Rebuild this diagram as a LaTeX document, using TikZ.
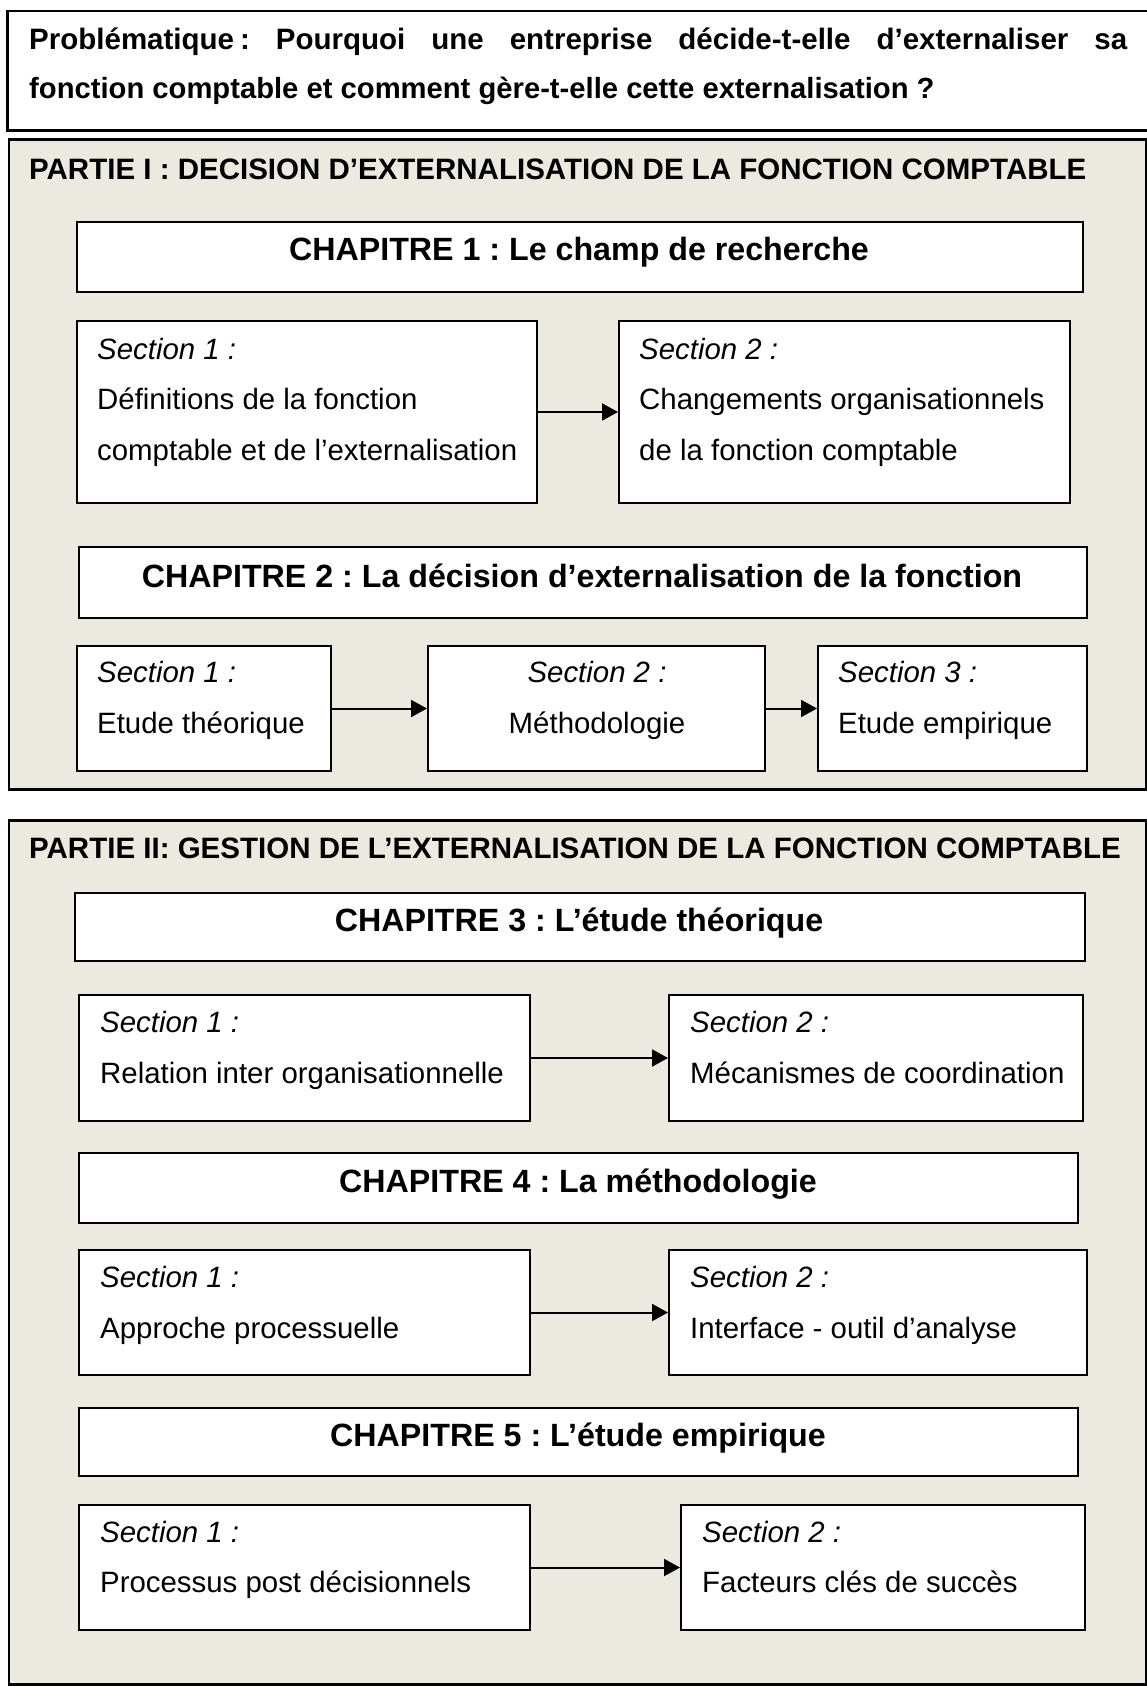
\documentclass[tikz,border=0pt]{standalone}
\usepackage{fontspec}
\setmainfont{Liberation Sans}
\usetikzlibrary{arrows.meta}
\definecolor{partfill}{RGB}{236,233,224}
\frenchspacing
\begin{document}
\begin{tikzpicture}[x=1pt,y=-1pt,
  frame/.style={draw=black,line width=2.5pt,fill=partfill,anchor=north west,inner sep=0pt},
  topframe/.style={draw=black,line width=2.5pt,fill=white,anchor=north west,inner sep=0pt},
  box/.style={draw=black,line width=2pt,fill=white,anchor=north west,inner sep=0pt},
  txt/.style={anchor=base west,inner sep=0pt,font=\fontsize{29.4}{35}\selectfont},
  itxt/.style={txt,font=\fontsize{29.4}{35}\selectfont\itshape},
  ctxt/.style={txt,anchor=base},
  citxt/.style={itxt,anchor=base},
  head/.style={anchor=base west,inner sep=0pt,font=\fontsize{29.5}{35}\selectfont\bfseries},
  chap/.style={anchor=base,inner sep=0pt,font=\fontsize{32.2}{38}\selectfont\bfseries},
  arr/.style={line width=2pt,-{Triangle[length=16pt,width=17pt]}}
]
\useasboundingbox (0,0) rectangle (1146,1686);

% problem statement
\node[topframe,minimum width=1150pt,minimum height=119pt] (prob) at (6,10) {};
\node[head] (probA) at (29,49) {\makebox[1098pt][s]{Problématique\hspace{6pt}: Pourquoi une entreprise décide-t-elle d’externaliser sa}};
\node[head,font=\fontsize{29.2}{35}\selectfont\bfseries] (probB) at (29,98) {fonction comptable et comment gère-t-elle cette externalisation ?};

% ---------------- Part I ----------------
\node[frame,minimum width=1137pt,minimum height=650pt] (part1) at (7.5,138) {};
\node[head] (p1t) at (29,179.5) {PARTIE I : DECISION D’EXTERNALISATION DE LA FONCTION COMPTABLE};

% chapter 1
\node[box,minimum width=1006pt,minimum height=70pt] (ch1) at (76,221) {};
\node[chap] (ch1t) at (579,260.5) {CHAPITRE 1 : Le champ de recherche};
\node[box,minimum width=460pt,minimum height=182pt] (c1s1) at (76,320) {};
\node[itxt] (c1s1a) at (97,359) {Section 1 :};
\node[txt] (c1s1b) at (97,409) {Définitions de la fonction};
\node[txt] (c1s1c) at (97,460) {comptable et de l’externalisation};
\node[box,minimum width=451pt,minimum height=182pt] (c1s2) at (618,320) {};
\node[itxt] (c1s2a) at (639,359) {Section 2 :};
\node[txt] (c1s2b) at (639,409) {Changements organisationnels};
\node[txt] (c1s2c) at (639,460) {de la fonction comptable};
\draw[arr] (c1s1.east) -- (c1s2.west);

% chapter 2
\node[box,minimum width=1008pt,minimum height=71pt] (ch2) at (78,546) {};
\node[chap] (ch2t) at (582,587.5) {CHAPITRE 2 : La décision d’externalisation de la fonction};
\node[box,minimum width=254pt,minimum height=125pt] (c2s1) at (76,645) {};
\node[itxt] (c2s1a) at (97,682) {Section 1 :};
\node[txt] (c2s1b) at (97,733) {Etude théorique};
\node[box,minimum width=337pt,minimum height=125pt] (c2s2) at (427,645) {};
\node[citxt] (c2s2a) at (597,682) {Section 2 :};
\node[ctxt] (c2s2b) at (597,733) {Méthodologie};
\node[box,minimum width=269pt,minimum height=125pt] (c2s3) at (817,645) {};
\node[itxt] (c2s3a) at (838,682) {Section 3 :};
\node[txt] (c2s3b) at (838,733) {Etude empirique};
\draw[arr] (c2s1.east) -- (c2s2.west);
\draw[arr] (c2s2.east) -- (c2s3.west);

% ---------------- Part II ----------------
\node[frame,minimum width=1137pt,minimum height=864pt] (part2) at (7.5,819) {};
\node[head] (p2t) at (29,858.5) {PARTIE II: GESTION DE L’EXTERNALISATION DE LA FONCTION COMPTABLE};

% chapter 3
\node[box,minimum width=1010pt,minimum height=68pt] (ch3) at (74,892) {};
\node[chap] (ch3t) at (579,931.5) {CHAPITRE 3 : L’étude théorique};
\node[box,minimum width=451pt,minimum height=126pt] (c3s1) at (78,994) {};
\node[itxt] (c3s1a) at (100,1032) {Section 1 :};
\node[txt] (c3s1b) at (100,1083) {Relation inter organisationnelle};
\node[box,minimum width=414pt,minimum height=126pt] (c3s2) at (668,994) {};
\node[itxt] (c3s2a) at (690,1032) {Section 2 :};
\node[txt] (c3s2b) at (690,1083) {Mécanismes de coordination};
\draw[arr] (c3s1.east) -- (c3s2.west);

% chapter 4
\node[box,minimum width=999pt,minimum height=70pt] (ch4) at (78,1152) {};
\node[chap] (ch4t) at (578,1192.5) {CHAPITRE 4 : La méthodologie};
\node[box,minimum width=451pt,minimum height=125pt] (c4s1) at (78,1249) {};
\node[itxt] (c4s1a) at (100,1287) {Section 1 :};
\node[txt] (c4s1b) at (100,1338) {Approche processuelle};
\node[box,minimum width=418pt,minimum height=125pt] (c4s2) at (668,1249) {};
\node[itxt] (c4s2a) at (690,1287) {Section 2 :};
\node[txt] (c4s2b) at (690,1338) {Interface - outil d’analyse};
\draw[arr] (c4s1.east) -- (c4s2.west);

% chapter 5
\node[box,minimum width=999pt,minimum height=68pt] (ch5) at (78,1407) {};
\node[chap] (ch5t) at (578,1446.5) {CHAPITRE 5 : L’étude empirique};
\node[box,minimum width=451pt,minimum height=125pt] (c5s1) at (78,1504) {};
\node[itxt] (c5s1a) at (100,1542) {Section 1 :};
\node[txt] (c5s1b) at (100,1592) {Processus post décisionnels};
\node[box,minimum width=404pt,minimum height=125pt] (c5s2) at (680,1504) {};
\node[itxt] (c5s2a) at (702,1542) {Section 2 :};
\node[txt] (c5s2b) at (702,1592) {Facteurs clés de succès};
\draw[arr] (c5s1.east) -- (c5s2.west);
\end{tikzpicture}
\end{document}
